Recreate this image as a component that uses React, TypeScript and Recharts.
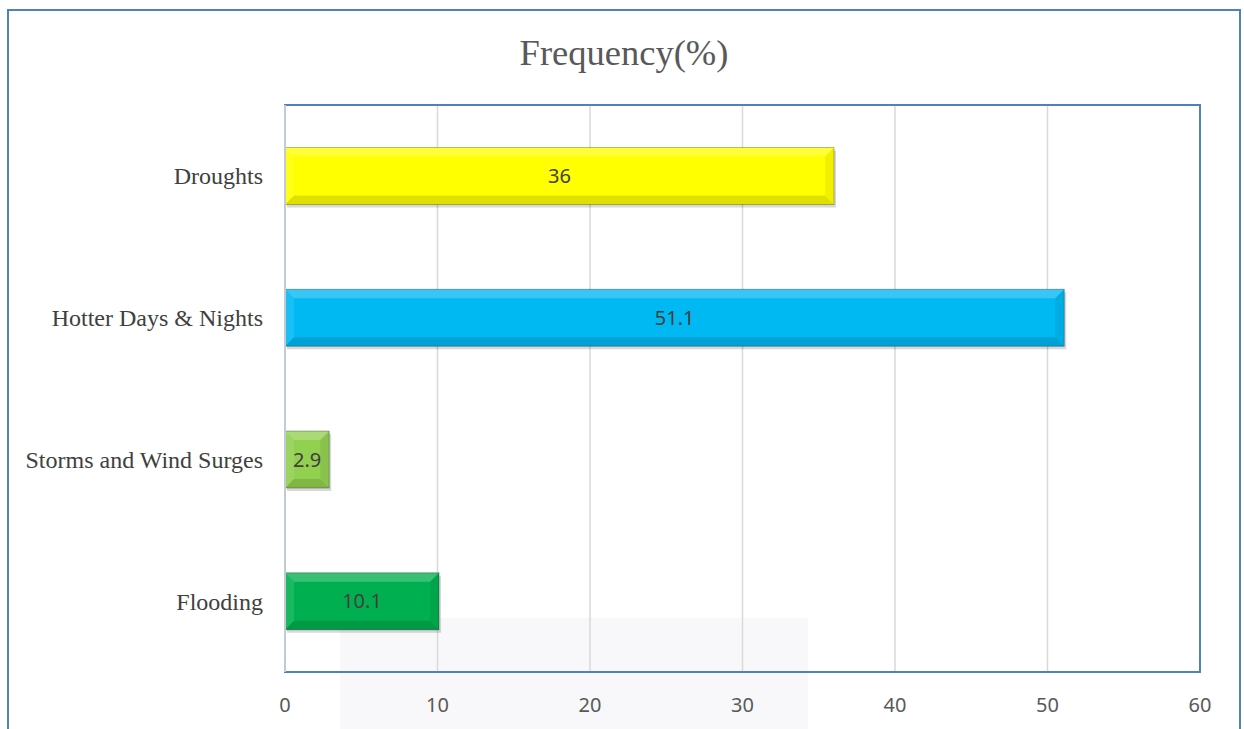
import { BarChart, Bar, XAxis, YAxis, CartesianGrid, Cell, LabelList, ReferenceArea, ReferenceLine } from 'recharts'

const categories = ['Droughts', 'Hotter Days & Nights', 'Storms and Wind Surges', 'Flooding']
const frequency = [36, 51.1, 2.9, 10.1]
const barColors = ['#FFFF00', '#00B8F2', '#92D050', '#00B050']
const xTicks = [0, 10, 20, 30, 40, 50, 60]

const data = categories.map((name, i) => ({ name, value: frequency[i] }))

// bar with a soft bevel and drop shadow, like the office "bevel" effect
const BevelBar = (props: any) => {
  const { x, y, width, height, fill } = props
  if (x == null || y == null || !width || !height) return null
  const b = Math.min(9, width / 4, height / 4)
  const x2 = x + width
  const y2 = y + height
  return (
    <g>
      <rect x={x + 2} y={y + 3} width={width} height={height} fill="rgba(0,0,0,0.15)" />
      <rect x={x} y={y} width={width} height={height} fill={fill} />
      {/* top */}
      <polygon points={`${x},${y} ${x2},${y} ${x2 - b},${y + b} ${x + b},${y + b}`} fill="rgba(255,255,255,0.22)" />
      {/* left */}
      <polygon points={`${x},${y} ${x + b},${y + b} ${x + b},${y2 - b} ${x},${y2}`} fill="rgba(255,255,255,0.1)" />
      {/* bottom */}
      <polygon points={`${x},${y2} ${x + b},${y2 - b} ${x2 - b},${y2 - b} ${x2},${y2}`} fill="rgba(0,0,0,0.12)" />
      {/* right */}
      <polygon points={`${x2},${y} ${x2},${y2} ${x2 - b},${y2 - b} ${x2 - b},${y + b}`} fill="rgba(0,0,0,0.06)" />
      <rect x={x} y={y} width={width} height={height} fill="none" stroke="rgba(0,0,0,0.28)" strokeWidth={1} />
    </g>
  )
}

export default function App() {
  return (
    <div style={{ position: 'absolute', left: 0, top: 0, width: 1244, height: 729, overflow: 'hidden', background: '#fff' }}>
      {/* faint watermark behind the chart */}
      <div style={{ position: 'absolute', left: 340, top: 618, width: 468, height: 120, background: 'rgba(215,215,228,0.18)' }} />
      <div
        style={{
          position: 'absolute',
          left: 7,
          top: 9,
          width: 1234,
          height: 740,
          border: '2px solid #4F81BD',
          boxSizing: 'border-box',
        }}
      />
      <div
        style={{
          position: 'absolute',
          left: 0,
          top: 30,
          width: 1248,
          textAlign: 'center',
          fontFamily: '"Liberation Serif", serif',
          fontSize: 36.5,
          color: '#595959',
          lineHeight: '46px',
        }}
      >
        Frequency(%)
      </div>
      <div style={{ position: 'absolute', left: 0, top: 0 }}>
        <BarChart
          width={1244}
          height={729}
          data={data}
          layout="vertical"
          barCategoryGap="30%"
          margin={{ top: 105, right: 44, bottom: 0, left: 0 }}
        >
          <CartesianGrid horizontal={false} stroke="#D9D9D9" strokeWidth={1.5} />
          <XAxis
            type="number"
            domain={[0, 60]}
            ticks={xTicks}
            axisLine={false}
            tickLine={false}
            tickMargin={20}
            height={57}
            tick={{ fontFamily: '"Noto Sans", sans-serif', fontSize: 20, fill: '#595959' }}
          />
          <YAxis
            type="category"
            dataKey="name"
            width={285}
            axisLine={false}
            tickLine={false}
            tickMargin={16}
            tick={{ fontFamily: '"Liberation Serif", serif', fontSize: 24, fill: '#404040' }}
          />
          <ReferenceArea x1={0} x2={60} fill="none" stroke="#4F81BD" strokeWidth={2} fillOpacity={0} />
          <ReferenceLine x={0} stroke="#C3CAD6" strokeWidth={2} />
          <Bar dataKey="value" shape={<BevelBar />} isAnimationActive={false}>
            {data.map((d, i) => (
              <Cell key={d.name} fill={barColors[i]} />
            ))}
            <LabelList
              dataKey="value"
              position="center"
              style={{ fontFamily: '"Noto Sans", sans-serif', fontSize: 20, fill: '#404040' }}
            />
          </Bar>
        </BarChart>
      </div>
    </div>
  )
}
